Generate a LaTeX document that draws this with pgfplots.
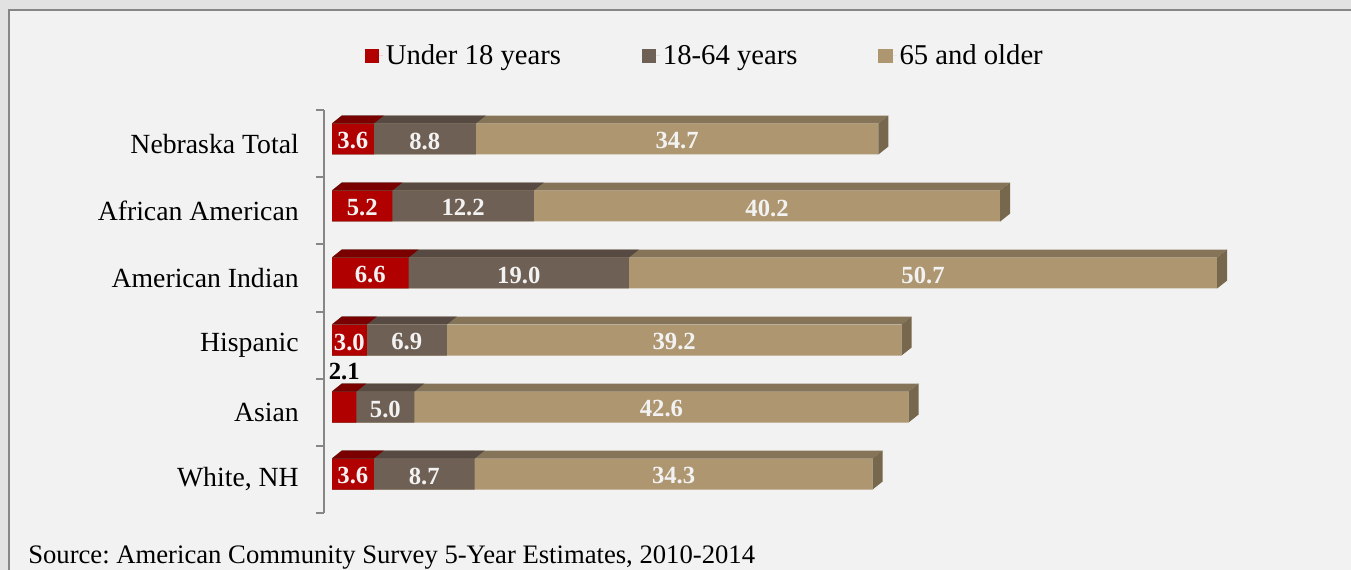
\documentclass[border=0pt]{standalone}
\usepackage{pgfplots}
\pgfplotsset{compat=1.18}
\usepackage{pgfplotstable}
\usepackage{fontspec}
\setmainfont{Liberation Serif}
\frenchspacing

\definecolor{cRed}{RGB}{176,0,0}
\definecolor{cRedTop}{RGB}{122,0,0}
\definecolor{cBrown}{RGB}{111,96,85}
\definecolor{cBrownTop}{RGB}{86,74,66}
\definecolor{cTan}{RGB}{173,150,112}
\definecolor{cTanTop}{RGB}{133,116,87}
\definecolor{cTanEnd}{RGB}{118,103,77}
\definecolor{panel}{RGB}{242,242,242}
\definecolor{outerbg}{RGB}{226,226,226}
\definecolor{axgray}{RGB}{134,134,134}

\pgfplotstableread{
y u m o
0 3.6 8.7 34.3
1 2.1 5.0 42.6
2 3.0 6.9 39.2
3 6.6 19.0 50.7
4 5.2 12.2 40.2
5 3.6 8.8 34.7
}\data

\begin{document}
\begin{tikzpicture}
\useasboundingbox (0,0) rectangle (1351*0.75pt,-570*0.75pt);
\fill[outerbg] (-5pt,5pt) rectangle (1360*0.75pt,-580*0.75pt);
\fill[panel] (9*0.75pt,-10*0.75pt) rectangle (1365*0.75pt,-580*0.75pt);
\draw[axgray, line width=1.5pt] (9*0.75pt,-580*0.75pt) -- (9*0.75pt,-10*0.75pt) -- (1365*0.75pt,-10*0.75pt);
\begin{axis}[
  at={(324*0.75pt,-512.5*0.75pt)}, anchor=south west,
  x=8.7pt, y=50.25pt,
  xmin=-0.69, xmax=86.2, ymin=-0.5, ymax=5.5,
  hide x axis,
  axis y line*=left,
  axis line style={axgray, line width=1.5pt},
  ytick={0,...,5},
  yticklabels={{White, NH},Asian,Hispanic,American Indian,African American,Nebraska Total},
  major tick length=0pt,
  yticklabel style={font=\fontsize{20.8}{24}\selectfont, inner sep=0pt, xshift=-18.75pt},
  extra y ticks={-0.5,0.5,1.5,2.5,3.5,4.5,5.5},
  extra y tick labels={},
  extra y tick style={major tick length=6pt, tick align=outside, tick style={axgray, line width=1.5pt}},
  clip=false,
  legend image code/.code={\fill[#1] (0pt,-5.5pt) rectangle (11pt,5.5pt); \path (0pt,0pt) -- (14pt,0pt);},
  legend style={at={(0.378,1.1356)}, anchor=center, draw=none, fill=none,
    legend columns=3, font=\fontsize{21.5}{24}\selectfont,
    nodes={inner sep=2pt},
    /tikz/every even column/.append style={column sep=58.5pt}},
  legend cell align=left,
]
\addlegendimage{fill=cRed, draw=none}\addlegendentry{Under 18 years}
\addlegendimage{fill=cBrown, draw=none}\addlegendentry{18-64 years}
\addlegendimage{fill=cTan, draw=none}\addlegendentry{65 and older}

% front faces
\addplot[xbar, bar width=23.25pt, bar shift=3.75pt, fill=cTan, draw=none, forget plot]
  table[y=y, x expr=\thisrow{u}+\thisrow{m}+\thisrow{o}] {\data};
\addplot[xbar, bar width=23.25pt, bar shift=3.75pt, fill=cBrown, draw=none, forget plot]
  table[y=y, x expr=\thisrow{u}+\thisrow{m}] {\data};
\addplot[xbar, bar width=23.25pt, bar shift=3.75pt, fill=cRed, draw=none, forget plot]
  table[y=y, x=u] {\data};

% top and end faces
\pgfplotsforeachungrouped \i in {0,...,5}{%
  \pgfplotstablegetelem{\i}{u}\of\data \let\U=\pgfplotsretval
  \pgfplotstablegetelem{\i}{m}\of\data \let\M=\pgfplotsretval
  \pgfplotstablegetelem{\i}{o}\of\data \let\O=\pgfplotsretval
  \pgfmathsetmacro\B{\U+\M}
  \pgfmathsetmacro\T{\U+\M+\O}
  \pgfmathsetmacro\Ud{\U+0.862}
  \pgfmathsetmacro\Bd{\B+0.862}
  \pgfmathsetmacro\Td{\T+0.862}
  \pgfmathsetmacro\yf{\i+0.306}
  \pgfmathsetmacro\yb{\i+0.425}
  \pgfmathsetmacro\ybot{\i-0.157}
  \pgfmathsetmacro\ybb{\i-0.038}
  \edef\temp{%
    \noexpand\addplot[fill=cTanTop, draw=none, forget plot] coordinates {(0,\yf) (0.862,\yb) (\Td,\yb) (\T,\yf)} -- cycle;
    \noexpand\addplot[fill=cTanEnd, draw=none, forget plot] coordinates {(\T,\ybot) (\T,\yf) (\Td,\yb) (\Td,\ybb)} -- cycle;
    \noexpand\addplot[fill=cBrownTop, draw=none, forget plot] coordinates {(0,\yf) (0.862,\yb) (\Bd,\yb) (\B,\yf)} -- cycle;
    \noexpand\addplot[fill=cRedTop, draw=none, forget plot] coordinates {(0,\yf) (0.862,\yb) (\Ud,\yb) (\U,\yf)} -- cycle;
  }\temp
}

% value labels
\pgfplotsset{vlab/.style={draw=none, mark=none, forget plot, point meta=explicit,
  nodes near coords={\pgfmathprintnumber[fixed,fixed zerofill,precision=1,assume math mode=true]{\pgfplotspointmeta}},
  every node near coord/.append style={anchor=center, text=panel, font=\bfseries\fontsize{18.5}{20}\selectfont}}}
\addplot[vlab, skip coords between index={1}{2}]
  table[x expr=\thisrow{u}/2, y expr=\thisrow{y}+0.045, meta=u] {\data};
\addplot[vlab]
  table[x expr=\thisrow{u}+\thisrow{m}/2, y expr=\thisrow{y}+0.045, meta=m] {\data};
\addplot[vlab]
  table[x expr=\thisrow{u}+\thisrow{m}+\thisrow{o}/2, y expr=\thisrow{y}+0.045, meta=o] {\data};
\addplot[vlab, every node near coord/.append style={text=black}]
  coordinates {(1.05,1.6) [2.1]};
\end{axis}
\node[anchor=base west, font=\fontsize{20}{22}\selectfont, inner sep=0pt] at (28*0.75pt,-563*0.75pt) {Source: American Community Survey 5-Year Estimates, 2010-2014};
\end{tikzpicture}
\end{document}
